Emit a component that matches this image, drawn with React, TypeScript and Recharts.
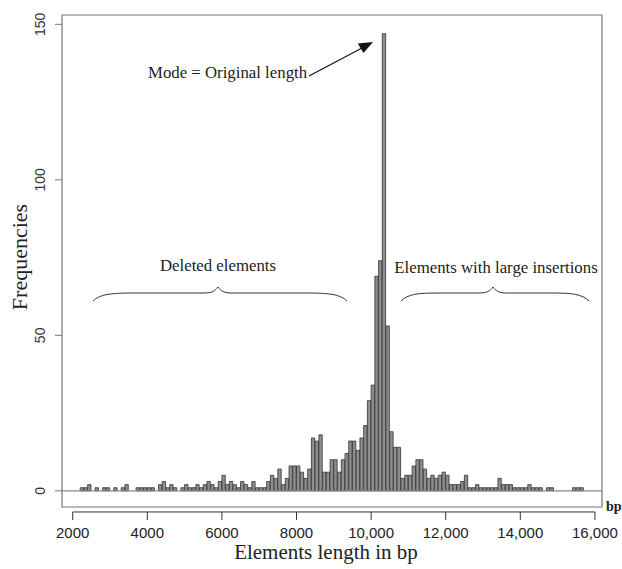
import React from "react";
import { ComposedChart, Bar, XAxis, YAxis, ReferenceLine, ReferenceArea, Customized } from "recharts";

// histogram bins: 100 bp wide, first bin starts at 2200 bp
const BIN_START = 2200;
const BIN_WIDTH = 100;

// frequencies per bin (one row per 1000 bp)
const COUNTS_2000S = [1, 1, 2, 0, 1, 0, 1, 1];
const COUNTS_3000S = [0, 1, 0, 1, 2, 0, 0, 1, 1, 1];
const COUNTS_4000S = [1, 1, 0, 2, 3, 1, 2, 1, 0, 1];
const COUNTS_5000S = [2, 1, 1, 2, 1, 2, 3, 2, 1, 3];
const COUNTS_6000S = [5, 2, 3, 2, 1, 3, 2, 1, 3, 1];
const COUNTS_7000S = [1, 1, 3, 5, 4, 7, 2, 4, 8, 8];
const COUNTS_8000S = [8, 6, 4, 7, 17, 16, 18, 6, 6, 10];
const COUNTS_9000S = [10, 6, 10, 12, 16, 16, 13, 17, 21, 29];
const COUNTS_10000S = [34, 69, 74, 147, 53, 19, 14, 14, 4, 5];
const COUNTS_11000S = [5, 8, 10, 10, 7, 4, 5, 4, 5, 6];
const COUNTS_12000S = [5, 2, 2, 2, 3, 5, 1, 1, 2, 1];
const COUNTS_13000S = [1, 1, 1, 1, 4, 2, 2, 2, 1, 1];
const COUNTS_14000S = [1, 1, 2, 1, 1, 1, 0, 1, 1, 0];
const COUNTS_15000S = [0, 0, 0, 0, 1, 1, 1];

const COUNTS = [
  ...COUNTS_2000S, ...COUNTS_3000S, ...COUNTS_4000S, ...COUNTS_5000S,
  ...COUNTS_6000S, ...COUNTS_7000S, ...COUNTS_8000S, ...COUNTS_9000S,
  ...COUNTS_10000S, ...COUNTS_11000S, ...COUNTS_12000S, ...COUNTS_13000S,
  ...COUNTS_14000S, ...COUNTS_15000S,
];

const X_TICKS = [2000, 4000, 6000, 8000, 10000, 12000, 14000, 16000];
const X_TICK_LABELS = ["2000", "4000", "6000", "8000", "10,000", "12,000", "14,000", "16,000"];
const Y_TICKS = [0, 50, 100, 150];

const data = COUNTS.map((count, i) => ({
  mid: BIN_START + i * BIN_WIDTH + BIN_WIDTH / 2,
  count,
}));

// layout
const W = 622;
const H = 569;
const MARGIN = { top: 15, right: 20, bottom: 0, left: 0 };
const Y_AXIS_W = 62;
const X_AXIS_H = 62;
const X_DOMAIN = [1713, 16190];
const Y_DOMAIN = [-5.2, 153];
const PLOT_W = W - MARGIN.left - MARGIN.right - Y_AXIS_W;
const BAR_PX = (PLOT_W * BIN_WIDTH) / (X_DOMAIN[1] - X_DOMAIN[0]);

const SANS = "'Liberation Sans', Arial, sans-serif";
const SERIF = "'Liberation Serif', 'Times New Roman', serif";

const XTick = (props: any) => {
  const { x, y, payload } = props;
  const label = X_TICK_LABELS[X_TICKS.indexOf(payload.value)];
  return (
    <g>
      <line x1={x} x2={x} y1={y + 5} y2={y + 13} stroke="#333" strokeWidth={1} />
      <text x={x} y={y + 31} textAnchor="middle" fontSize={15} fontFamily={SANS} fill="#222">
        {label}
      </text>
    </g>
  );
};

const YTick = (props: any) => {
  const { x, y, payload } = props;
  const cx = x - 15;
  return (
    <text
      x={cx}
      y={y}
      transform={`rotate(-90, ${cx}, ${y})`}
      textAnchor="middle"
      dominantBaseline="central"
      fontSize={14}
      fontFamily={SANS}
      fill="#333"
    >
      {payload.value}
    </text>
  );
};

// text annotations, braces and arrow drawn over the plot
const Annotations = () => (
  <g fontFamily={SERIF} fill="#222">
    <text x={148} y={78} fontSize={16.8}>Mode = Original length</text>
    <line x1={309} y1={76} x2={362} y2={48} stroke="#111" strokeWidth={1.2} />
    <polygon points="373,42 363.5,53 357.8,43.5" fill="#111" />

    <text x={218} y={271} fontSize={16.8} textAnchor="middle">Deleted elements</text>
    <path
      d="M93,301 C100,294 112,293 135,293 L204,293 C212,293 215,291 218,287 C221,291 224,293 232,293 L305,293 C328,293 340,294 347,301"
      fill="none"
      stroke="#333"
      strokeWidth={1}
    />

    <text x={496} y={273} fontSize={16.8} textAnchor="middle">Elements with large insertions</text>
    <path
      d="M401,301 C408,294 418,293 438,293 L479,293 C487,293 490,291 493,287 C496,291 499,293 507,293 L552,293 C572,293 582,294 589,301"
      fill="none"
      stroke="#333"
      strokeWidth={1}
    />

    <text x={19} y={257} fontSize={22} textAnchor="middle" dominantBaseline="central" transform="rotate(-90, 19, 257)">
      Frequencies
    </text>
    <text x={326} y={559} fontSize={21} textAnchor="middle">Elements length in bp</text>
    <text x={606} y={511} fontSize={14} fontWeight="bold">bp</text>
  </g>
);

export default function App() {
  return (
    <div style={{ position: "absolute", left: 0, top: 0, width: W, height: H, background: "#fff" }}>
      <ComposedChart width={W} height={H} data={data} margin={MARGIN} barCategoryGap={0} barGap={0}>
        <XAxis
          dataKey="mid"
          type="number"
          domain={X_DOMAIN}
          ticks={X_TICKS}
          allowDataOverflow
          height={X_AXIS_H}
          axisLine={false}
          tickLine={false}
          tickSize={0}
          tickMargin={0}
          tick={<XTick />}
          interval={0}
        />
        <YAxis
          type="number"
          domain={Y_DOMAIN}
          ticks={Y_TICKS}
          allowDataOverflow
          width={Y_AXIS_W}
          axisLine={false}
          tickLine={{ stroke: "#777" }}
          tickSize={7}
          tickMargin={0}
          tick={<YTick />}
          interval={0}
        />
        <ReferenceArea
          x1={X_DOMAIN[0]}
          x2={X_DOMAIN[1]}
          y1={Y_DOMAIN[0]}
          y2={Y_DOMAIN[1]}
          fill="none"
          stroke="#777"
          strokeWidth={1.2}
          ifOverflow="visible"
        />
        <ReferenceLine y={0} stroke="#888" strokeWidth={1.2} />
        <ReferenceLine
          segment={[{ x: X_TICKS[0], y: -6.8 }, { x: X_TICKS[X_TICKS.length - 1], y: -6.8 }]}
          stroke="#333"
          strokeWidth={1}
          ifOverflow="visible"
        />
        <Bar
          dataKey="count"
          barSize={BAR_PX}
          fill="#8e8e8e"
          stroke="#333"
          strokeWidth={0.8}
          isAnimationActive={false}
        />
        <Customized component={Annotations} />
      </ComposedChart>
    </div>
  );
}
